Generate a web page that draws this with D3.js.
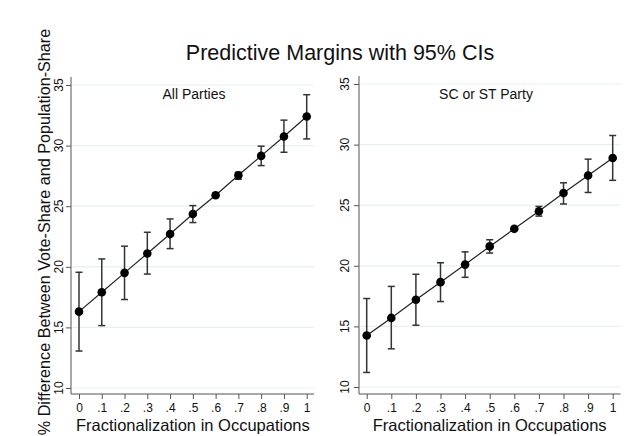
<!DOCTYPE html>
<html>
<head>
<meta charset="utf-8">
<script src="https://cdn.jsdelivr.net/npm/d3@7"></script>
<style>
  body { margin: 0; background: #fff; }
  text { font-family: "Liberation Sans", Arial, sans-serif; fill: #111; }
</style>
</head>
<body>
<div id="chart"></div>
<script>
// data
var xVals = [0, 0.1, 0.2, 0.3, 0.4, 0.5, 0.6, 0.7, 0.8, 0.9, 1];
var xTickLabels = ["0", ".1", ".2", ".3", ".4", ".5", ".6", ".7", ".8", ".9", "1"];
var yTicks = [10, 15, 20, 25, 30, 35];

var allMargin = [16.3, 17.9, 19.5, 21.1, 22.7, 24.35, 25.9, 27.55, 29.15, 30.75, 32.4];
var allLo     = [13.05, 15.15, 17.3, 19.4, 21.5, 23.65, 25.75, 27.22, 28.35, 29.45, 30.55];
var allHi     = [19.55, 20.65, 21.7, 22.85, 23.95, 25.05, 26.05, 27.8, 29.95, 32.1, 34.2];

var scMargin = [14.25, 15.7, 17.2, 18.65, 20.1, 21.6, 23.05, 24.5, 26.0, 27.45, 28.9];
var scLo     = [11.2, 13.15, 15.1, 17.05, 19.05, 21.05, 22.95, 24.1, 25.1, 26.05, 27.05];
var scHi     = [17.3, 18.3, 19.3, 20.25, 21.15, 22.15, 23.15, 24.9, 26.85, 28.8, 30.75];

var panelTitles = ["All Parties", "SC or ST Party"];

var W = 634, H = 436;
var svg = d3.select("#chart").append("svg")
    .attr("width", W)
    .attr("height", H);

// panel layout
var panels = [
  { title: panelTitles[0], m: allMargin, lo: allLo, hi: allHi,
    xr: [79, 306.7], yr: [388, 85], axisX: 71, axisY: 394, labX: 59, titleX: 194 },
  { title: panelTitles[1], m: scMargin, lo: scLo, hi: scHi,
    xr: [366.7, 612.7], yr: [387, 84], axisX: 359, axisY: 394, labX: 345, titleX: 486 }
];

panels.forEach(function(p) {
  var x = d3.scaleLinear().domain([0, 1]).range(p.xr);
  var y = d3.scaleLinear().domain([10, 35]).range(p.yr);
  var g = svg.append("g");

  var gx1 = x(1.032);

  // grid lines
  g.selectAll(".grid")
    .data(yTicks)
    .enter()
    .append("line")
      .attr("x1", p.axisX + 1)
      .attr("x2", gx1)
      .attr("y1", function(d) { return y(d); })
      .attr("y2", function(d) { return y(d); })
      .style("stroke", "#e6eff1")
      .style("stroke-width", 1.2);

  // x axis
  var xAxis = d3.axisBottom(x)
      .tickValues(xVals)
      .tickFormat(function(d, i) { return xTickLabels[i]; })
      .tickSize(5)
      .tickSizeOuter(0);
  var ax = g.append("g")
      .attr("transform", "translate(0," + p.axisY + ")")
      .call(xAxis);
  ax.select(".domain").remove();
  ax.selectAll("line").style("stroke", "#555");
  ax.selectAll("text")
      .attr("y", 9)
      .style("font-size", "12px")
      .style("font-family", "Liberation Sans, Arial, sans-serif")
      .style("fill", "#111");
  g.append("line")
      .attr("x1", p.axisX).attr("x2", gx1)
      .attr("y1", p.axisY).attr("y2", p.axisY)
      .style("stroke", "#555");

  // y axis
  var yAxis = d3.axisLeft(y)
      .tickValues(yTicks)
      .tickSize(5)
      .tickSizeOuter(0)
      .tickFormat("");
  var ay = g.append("g")
      .attr("transform", "translate(" + p.axisX + ",0)")
      .call(yAxis);
  ay.select(".domain").remove();
  ay.selectAll("line").style("stroke", "#555");
  g.append("line")
      .attr("x1", p.axisX).attr("x2", p.axisX)
      .attr("y1", p.axisY).attr("y2", y(35.66))
      .style("stroke", "#555");
  g.selectAll(".ylab")
    .data(yTicks)
    .enter()
    .append("text")
      .attr("transform", function(d) { return "translate(" + (p.labX + 4) + "," + y(d) + ") rotate(-90)"; })
      .attr("text-anchor", "middle")
      .style("font-size", "12px")
      .text(function(d) { return d; });

  // x title
  g.append("text")
      .attr("x", (p.xr[0] + p.xr[1]) / 2)
      .attr("y", 431)
      .attr("text-anchor", "middle")
      .style("font-size", "16.5px")
      .text("Fractionalization in Occupations");

  // panel title
  g.append("text")
      .attr("x", p.titleX)
      .attr("y", 99)
      .attr("text-anchor", "middle")
      .style("font-size", "14px")
      .text(p.title);

  // error bars
  var cap = 3.5;
  var eb = g.append("g").selectAll("g")
    .data(xVals)
    .enter()
    .append("g");
  eb.append("line")
      .attr("x1", function(d) { return x(d); })
      .attr("x2", function(d) { return x(d); })
      .attr("y1", function(d, i) { return y(p.lo[i]); })
      .attr("y2", function(d, i) { return y(p.hi[i]); });
  eb.append("line")
      .attr("x1", function(d) { return x(d) - cap; })
      .attr("x2", function(d) { return x(d) + cap; })
      .attr("y1", function(d, i) { return y(p.lo[i]); })
      .attr("y2", function(d, i) { return y(p.lo[i]); });
  eb.append("line")
      .attr("x1", function(d) { return x(d) - cap; })
      .attr("x2", function(d) { return x(d) + cap; })
      .attr("y1", function(d, i) { return y(p.hi[i]); })
      .attr("y2", function(d, i) { return y(p.hi[i]); });
  eb.selectAll("line")
      .style("stroke", "#333")
      .style("stroke-width", 1.5);

  // connecting line
  var line = d3.line()
      .x(function(d) { return x(d); })
      .y(function(d, i) { return y(p.m[i]); });
  g.append("path")
      .datum(xVals)
      .attr("d", line)
      .style("fill", "none")
      .style("stroke", "#222")
      .style("stroke-width", 1.2);

  // markers
  g.append("g")
    .selectAll("circle")
    .data(xVals)
    .enter()
    .append("circle")
      .attr("cx", function(d) { return x(d); })
      .attr("cy", function(d, i) { return y(p.m[i]); })
      .attr("r", 4.3)
      .style("fill", "#000");
});

// main title
svg.append("text")
    .attr("x", 340)
    .attr("y", 60)
    .attr("text-anchor", "middle")
    .style("font-size", "21.5px")
    .text("Predictive Margins with 95% CIs");

// shared y title
svg.append("text")
    .attr("transform", "translate(50,232) rotate(-90)")
    .attr("text-anchor", "middle")
    .style("font-size", "16.2px")
    .text("% Difference Between Vote-Share and Population-Share");
</script>
</body>
</html>
